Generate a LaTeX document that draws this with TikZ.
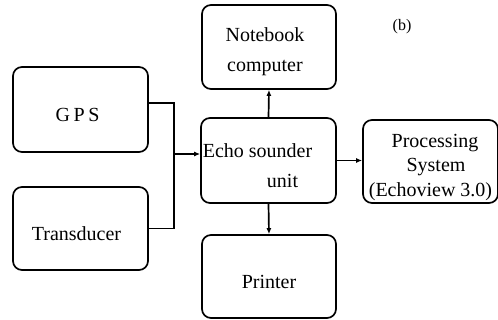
\documentclass[tikz,border=0pt]{standalone}
\usepackage{fontspec}
\setmainfont{Liberation Serif}
\usetikzlibrary{arrows.meta,calc}
\begin{document}
\begin{tikzpicture}[x=1pt,y=-1pt,
  box/.style={draw,line width=1.7pt,rounded corners=9pt,inner sep=0pt},
  txt/.style={label={[align=center,font=\fontsize{20}{30}\selectfont,yshift=-5pt]center:{#1}}},
  link/.style={line width=1.7pt},
  arr/.style={line width=1.7pt,-{Latex[length=6pt,width=5pt]}}]
\useasboundingbox (0,0) rectangle (498,320);
\node[box,minimum width=135pt,minimum height=85pt,txt={\addfontfeature{LetterSpace=18}\hspace*{-6pt}GPS}] (gps) at (80.5,109.5) {};
\node[box,minimum width=135pt,minimum height=83pt,txt={\hspace*{-8pt}Transducer}] (tr) at (80.5,228.5) {};
\node[box,minimum width=135pt,minimum height=85pt,txt={\hspace*{-22pt}Echo sounder\\\hspace*{28pt}unit}] (echo) at (268.5,160.5) {};
\node[box,minimum width=134pt,minimum height=84pt,txt={\hspace*{-8pt}Notebook\\\hspace*{-8pt}computer}] (nb) at (269,47) {};
\node[box,minimum width=134pt,minimum height=83pt,txt={Printer}] (pr) at (269,276.5) {};
\node[box,minimum width=135pt,minimum height=83pt,label={[align=center,font=\fontsize{20}{24.5}\selectfont,yshift=-6pt]center:{\hspace*{9pt}Processing\\\hspace*{11pt}System\\(Echoview 3.0)}}] (ps) at (430.5,161.5) {};
\node[font=\fontsize{16}{18}\selectfont] (lb) at (402,27) {(b)};
\coordinate (j) at (174,154);
\draw[link] ([yshift=6.5pt]gps.east) -| (j) |- (tr.east);
\draw[arr,line width=2.6pt] (j) -- (j -| echo.west);
\draw[arr] (echo.north) -- (nb.south);
\draw[arr] (echo.south) -- (pr.north);
\draw[arr] (echo.east) -- (echo.east -| ps.west);
\end{tikzpicture}
\end{document}
